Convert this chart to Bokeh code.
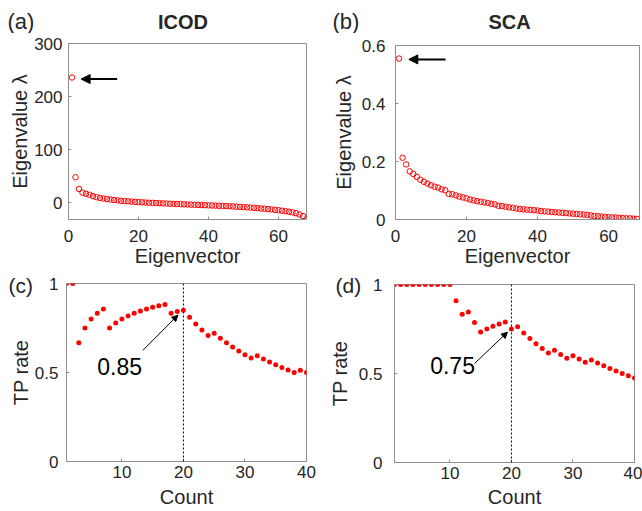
from bokeh.plotting import figure
from bokeh.layouts import column, row
from bokeh.models import (Range1d, Label, Arrow, NormalHead, Span, Plot,
                          Title, FixedTicker, CustomJSTickFormatter)
from bokeh.embed import file_html
from bokeh.resources import INLINE

# ---------------- data ----------------
eig_index = list(range(1, 69))
icod_eig = [236, 48, 26, 19, 17, 15, 12.5, 10.5, 9, 8,
            7, 6, 5.2, 4.5, 3.8, 3.2, 2.7, 2.2, 1.7, 1.3,
            0.9, 0.5, 0.1, -0.2, -0.5, -0.8, -1.1, -1.4, -1.7, -2.0,
            -2.3, -2.6, -2.9, -3.2, -3.5, -3.8, -4.0, -4.3, -4.6, -4.8,
            -5.1, -5.4, -5.7, -6.0, -6.3, -6.6, -6.9, -7.3, -7.7, -8.1,
            -8.6, -9.1, -9.6, -10.1, -10.7, -11.3, -11.9, -12.6, -13.3, -14.1,
            -14.9, -15.8, -16.8, -18.1, -19.8, -22, -25, -31]
sca_eig = [0.555, 0.213, 0.190, 0.166, 0.157, 0.147, 0.137, 0.130, 0.124, 0.118,
           0.113, 0.110, 0.104, 0.101, 0.088, 0.087, 0.083, 0.079, 0.076, 0.073,
           0.069, 0.066, 0.063, 0.061, 0.059, 0.057, 0.054, 0.052, 0.047, 0.046,
           0.044, 0.042, 0.040, 0.038, 0.036, 0.035, 0.034, 0.033, 0.032, 0.031,
           0.029, 0.028, 0.027, 0.026, 0.025, 0.024, 0.023, 0.022, 0.021, 0.020,
           0.019, 0.018, 0.017, 0.016, 0.014, 0.012, 0.011, 0.010, 0.009, 0.008,
           0.007, 0.007, 0.006, 0.005, 0.004, 0.004, 0.003, 0.002]

count = list(range(1, 41))
icod_tp = [1.0, 1.0, 0.667, 0.75, 0.8, 0.833, 0.857, 0.75, 0.778, 0.8,
           0.818, 0.833, 0.846, 0.857, 0.867, 0.875, 0.882, 0.833, 0.842, 0.85,
           0.81, 0.773, 0.739, 0.708, 0.72, 0.692, 0.667, 0.643, 0.621, 0.6,
           0.581, 0.594, 0.576, 0.559, 0.543, 0.528, 0.514, 0.5, 0.513, 0.5]
sca_tp = [1.0, 1.0, 1.0, 1.0, 1.0, 1.0, 1.0, 1.0, 1.0, 1.0,
          0.909, 0.833, 0.846, 0.786, 0.733, 0.75, 0.765, 0.778, 0.789, 0.75,
          0.762, 0.727, 0.696, 0.667, 0.64, 0.615, 0.63, 0.607, 0.586, 0.6,
          0.581, 0.563, 0.576, 0.559, 0.543, 0.528, 0.514, 0.5, 0.487, 0.475]

titles = ["ICOD", "SCA"]
panel_letters = ["(a)", "(b)", "(c)", "(d)"]
eig_xticks = [0, 20, 40, 60]
icod_yticks = [0, 100, 200, 300]
sca_yticks = [0, 0.2, 0.4, 0.6]
tp_xticks = [10, 20, 30, 40]
tp_yticks = [0, 0.5, 1]
cutoff = 20
icod_value = "0.85"
sca_value = "0.75"

# ---------------- style ----------------
FONT = "Liberation Sans"
TEXT = "#262626"
AXC = "#8f8f8f"
RED = "#ff0000"
fmt = CustomJSTickFormatter(code="return String(tick)")
HAS_FRAME_ALIGN = "frame_align" in Plot.properties()


def no_align(p):
    if HAS_FRAME_ALIGN:
        p.frame_align = False


def drop_title(p):
    try:
        p.title_location = None
    except Exception:
        p.title.visible = False


def style_axes(p, xticks, yticks, xlabel, ylabel, xstand, xlab_stand, ystand, ylab_stand):
    p.xgrid.visible = False
    p.ygrid.visible = False
    p.outline_line_color = AXC
    p.outline_line_width = 1
    p.outline_line_alpha = 1
    for ax, ticks, lab, st in ((p.xaxis[0], xticks, xlabel, xstand),
                               (p.yaxis[0], yticks, ylabel, ystand)):
        ax.ticker = FixedTicker(ticks=ticks)
        ax.formatter = fmt
        ax.axis_label = lab
        ax.axis_line_color = AXC
        ax.major_tick_line_color = AXC
        ax.major_tick_in = 3
        ax.major_tick_out = 0
        ax.minor_tick_line_color = None
        ax.major_label_text_font = FONT
        ax.major_label_text_font_size = "17px"
        ax.major_label_text_color = TEXT
        ax.major_label_standoff = st
        ax.axis_label_text_font = FONT
        ax.axis_label_text_font_size = "20px"
        ax.axis_label_text_font_style = "normal"
        ax.axis_label_text_color = TEXT
    p.xaxis[0].axis_label_standoff = xlab_stand
    p.yaxis[0].axis_label_standoff = ylab_stand


def make_fig(width, height, bl, br, bt, bb, xr, yr, keep_title=False):
    p = figure(width=width, height=height, x_range=Range1d(*xr), y_range=Range1d(*yr),
               output_backend="svg", toolbar_location=None,
               min_border_left=bl, min_border_right=br,
               min_border_top=bt, min_border_bottom=bb,
               background_fill_color="white", border_fill_color="white")
    if not keep_title:
        drop_title(p)
    no_align(p)
    return p


def make_strip(width, height):
    # header strip whose frame covers the whole canvas (pixel coordinates, y down)
    s = figure(width=width, height=height, x_range=Range1d(0, width), y_range=Range1d(height, 0),
               output_backend="svg", toolbar_location=None, min_border=0,
               x_axis_type=None, y_axis_type=None, outline_line_color=None,
               background_fill_color="white", border_fill_color="white")
    drop_title(s)
    no_align(s)
    return s


def strip_text(s, text, x, y, bold=False, align="left", size="22px"):
    # y is the vertical middle of the text box
    s.add_layout(Label(x=x, y=y, text=text, text_font=FONT, text_font_size=size,
                       text_font_style="bold" if bold else "normal", text_color=TEXT,
                       text_align=align, text_baseline="middle"))


def letter_title(p, text, offset, standoff):
    t = Title(text=text, align="left", text_font=FONT, text_font_size="21px",
              text_font_style="normal", text_color=TEXT, offset=offset)
    try:
        t.standoff = standoff
    except Exception:
        t.standoff = 0
    p.title = t


# ---------------- (a) ICOD eigenvalues ----------------
sa = make_strip(325, 33)
strip_text(sa, panel_letters[0], 7, 20.5)
strip_text(sa, titles[0], 182.5, 21.3, bold=True, align="center", size="20px")

pa = make_fig(325, 239, 68, 19, 10, 53, (0, 68), (-31.5, 300))
style_axes(pa, eig_xticks, icod_yticks, "Eigenvector", "Eigenvalue \u03bb", 10, 0, 6, 0)
pa.scatter(eig_index, icod_eig, marker="circle", size=5.5, fill_color=None,
           line_color=RED, line_width=1)
pa.add_layout(Arrow(x_start=13.9, y_start=icod_eig[0] - 3, x_end=3.6, y_end=icod_eig[0] - 3,
                    line_color="black", line_width=2,
                    end=NormalHead(size=9, fill_color="black", line_color="black")))

# ---------------- (b) SCA eigenvalues ----------------
sb = make_strip(317, 33)
strip_text(sb, panel_letters[1], 7, 20.5)
strip_text(sb, titles[1], 184, 21.3, bold=True, align="center", size="20px")

pb = make_fig(317, 239, 70, 3, 12, 53, (0, 68.7), (0, 0.6))
style_axes(pb, eig_xticks, sca_yticks, "Eigenvector", "Eigenvalue \u03bb", 10, 0, 10, 4)
pb.scatter(eig_index, sca_eig, marker="circle", size=5.5, fill_color=None,
           line_color=RED, line_width=1)
pb.add_layout(Arrow(x_start=14.1, y_start=sca_eig[0] - 0.003, x_end=3.75, y_end=sca_eig[0] - 0.003,
                    line_color="black", line_width=2,
                    end=NormalHead(size=9, fill_color="black", line_color="black")))

# ---------------- (c) ICOD TP rate ----------------
pc = make_fig(325, 238, 66, 19, 11, 48, (1, 40), (0, 1), keep_title=True)
style_axes(pc, tp_xticks, tp_yticks, "Count", "TP rate", 4, 5, 8, 0)
pc.add_layout(Span(location=cutoff, dimension="height", line_color="black",
                   line_width=1, line_dash="2 2"))
pc.scatter(count, icod_tp, marker="circle", size=5, fill_color=RED, line_color=None)
pc.add_layout(Arrow(x_start=13.4, y_start=0.624, x_end=19.1, y_end=icod_tp[cutoff - 1] - 0.028,
                    line_color="black", line_width=1,
                    end=NormalHead(size=6, fill_color="black", line_color="black")))
pc.add_layout(Label(x=6.0, y=0.533, text=icod_value, text_font=FONT, text_font_size="23px",
                    text_color="black", text_baseline="middle", text_align="left"))
letter_title(pc, panel_letters[2], -58, -26)

# ---------------- (d) SCA TP rate ----------------
pd_ = make_fig(317, 238, 67, 8, 12, 47, (1, 40), (0, 1), keep_title=True)
style_axes(pd_, tp_xticks, tp_yticks, "Count", "TP rate", 4, 4, 12, 5)
pd_.add_layout(Span(location=cutoff, dimension="height", line_color="black",
                    line_width=1, line_dash="2 2"))
pd_.scatter(count, sca_tp, marker="circle", size=5, fill_color=RED, line_color=None)
pd_.add_layout(Arrow(x_start=14.0, y_start=0.556, x_end=19.35, y_end=sca_tp[cutoff - 1] - 0.018,
                     line_color="black", line_width=1,
                     end=NormalHead(size=6, fill_color="black", line_color="black")))
pd_.add_layout(Label(x=6.8, y=0.546, text=sca_value, text_font=FONT, text_font_size="23px",
                     text_color="black", text_baseline="middle", text_align="left"))
letter_title(pd_, panel_letters[3], -59, -24)

layout = column(row(column(sa, pa), column(sb, pb)), row(pc, pd_))
open("out.html", "w").write(file_html(layout, INLINE))
